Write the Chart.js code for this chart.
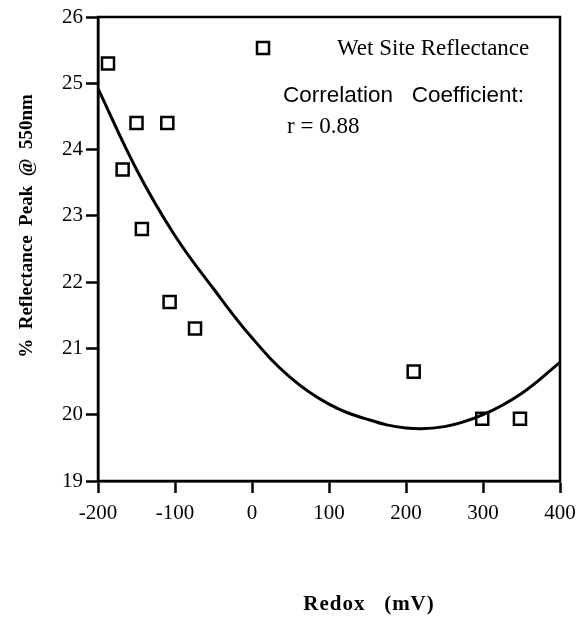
<!DOCTYPE html>
<html>
<head>
<meta charset="utf-8">
<script src="https://cdn.jsdelivr.net/npm/chart.js@4/dist/chart.umd.min.js"></script>
<style>
    html, body { margin: 0; padding: 0; background: #fff; }
    #wrap { width: 578px; height: 617px; }
</style>
</head>
<body>
<div id="wrap"><canvas id="redoxChart"></canvas></div>
<script>
// measured wet site points
const redox = [-187, -168, -150, -143, -110, -107, -74, 210, 299, 348];
const reflectance = [25.3, 23.7, 24.4, 22.8, 24.4, 21.7, 21.3, 20.65, 19.94, 19.94];

// fitted curve
const fitRedox = [-200, -150, -100, -50, 0, 50, 100, 150, 200, 250, 300, 350, 400];
const fitReflectance = [24.92, 23.70, 22.70, 21.90, 21.16, 20.56, 20.16, 19.93, 19.80, 19.82, 20.00, 20.32, 20.79];

const xTicks = [-200, -100, 0, 100, 200, 300, 400];
const yTicks = [19, 20, 21, 22, 23, 24, 25, 26];

const seriesLabel = "Wet Site Reflectance";
const noteLines = ["Correlation   Coefficient:", "r = 0.88"];
const xTitle = "Redox   (mV)";
const yTitle = "%  Reflectance  Peak  @  550nm";

const serif = "'Liberation Serif', 'Times New Roman', serif";
const sans = "'Liberation Sans', Arial, sans-serif";

const framePlugin = {
    id: "frame",
    afterDraw(chart) {
        const { ctx, chartArea: a } = chart;
        ctx.save();
        ctx.strokeStyle = "#000";
        ctx.lineWidth = 2.5;
        ctx.strokeRect(a.left, a.top, a.right - a.left, a.bottom - a.top);

        // legend box + notes
        ctx.fillStyle = "#fff";
        ctx.fillRect(a.left + 159, a.top + 25, 12, 12);
        ctx.strokeRect(a.left + 159, a.top + 25, 12, 12);

        ctx.fillStyle = "#000";
        ctx.textBaseline = "middle";
        ctx.textAlign = "left";
        ctx.font = "23px " + serif;
        ctx.fillText(seriesLabel, a.left + 239, a.top + 32);
        ctx.font = "22.5px " + sans;
        ctx.fillText(noteLines[0], a.left + 185, a.top + 79);
        ctx.font = "23px " + serif;
        ctx.fillText(noteLines[1], a.left + 189, a.top + 110);

        // axis titles
        ctx.font = "bold 21px " + serif;
        ctx.letterSpacing = "1px";
        ctx.textAlign = "center";
        ctx.fillText(xTitle, 369, 605);
        ctx.letterSpacing = "0px";
        ctx.translate(27, 226);
        ctx.rotate(-Math.PI / 2);
        ctx.font = "bold 19px " + serif;
        ctx.fillText(yTitle, 0, 0);
        ctx.restore();
    }
};

new Chart(document.getElementById("redoxChart"), {
    data: {
        datasets: [
            {
                type: "scatter",
                label: seriesLabel,
                data: redox.map((x, i) => ({ x, y: reflectance[i] })),
                pointStyle: "rect",
                pointRadius: 8.5,
                pointBorderWidth: 2.5,
                pointBackgroundColor: "#fff",
                pointBorderColor: "#000",
                order: 2
            },
            {
                type: "line",
                label: "fit",
                data: fitRedox.map((x, i) => ({ x, y: fitReflectance[i] })),
                borderColor: "#000",
                borderWidth: 3,
                pointRadius: 0,
                tension: 0.4,
                fill: false,
                order: 1
            }
        ]
    },
    options: {
        responsive: true,
        maintainAspectRatio: false,
        animation: false,
        layout: { padding: { left: 0, top: 17, right: 18, bottom: 0 } },
        plugins: {
            legend: { display: false },
            tooltip: { enabled: false }
        },
        scales: {
            x: {
                type: "linear",
                min: -200,
                max: 400,
                afterBuildTicks: s => { s.ticks = xTicks.map(v => ({ value: v })); },
                afterFit: s => { s.height = 136; s.paddingLeft = 0; s.paddingRight = 0; },
                ticks: { color: "#000", font: { family: serif, size: 21 }, padding: 8, maxRotation: 0 },
                grid: { drawOnChartArea: false, drawTicks: true, tickLength: 12, tickWidth: 2.5, tickColor: "#000" },
                border: { display: true, color: "#000", width: 2.5 }
            },
            y: {
                type: "linear",
                min: 19,
                max: 26,
                afterBuildTicks: s => { s.ticks = yTicks.map(v => ({ value: v })); },
                afterFit: s => { s.width = 98; s.paddingTop = 0; s.paddingBottom = 0; },
                ticks: { color: "#000", font: { family: serif, size: 21 }, padding: 3 },
                grid: { drawOnChartArea: false, drawTicks: true, tickLength: 12, tickWidth: 2.5, tickColor: "#000" },
                border: { display: true, color: "#000", width: 2.5 }
            }
        }
    },
    plugins: [framePlugin]
});
</script>
</body>
</html>
